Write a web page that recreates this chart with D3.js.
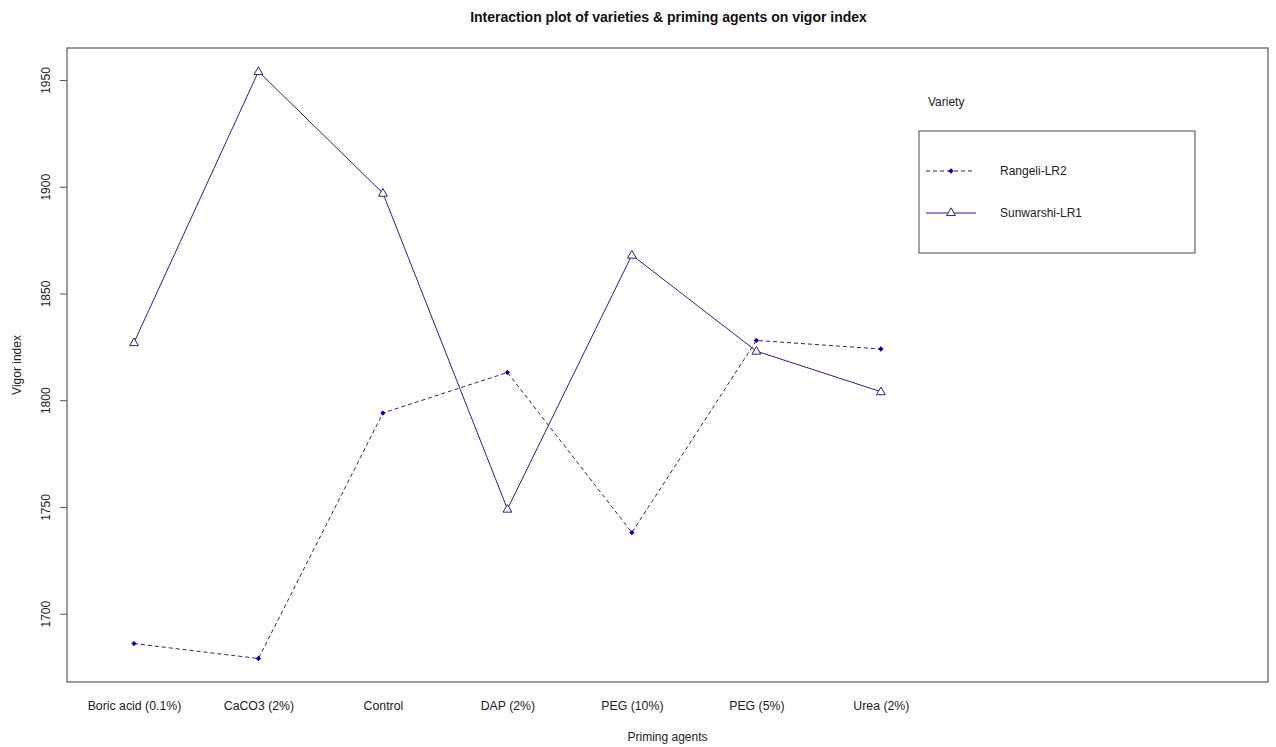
<!DOCTYPE html>
<html>
<head>
<meta charset="utf-8">
<script src="https://cdn.jsdelivr.net/npm/d3@7"></script>
<style>
  html, body { margin: 0; padding: 0; background: #fff; }
  text { font-family: "Liberation Sans", Arial, sans-serif; }
</style>
</head>
<body>
<svg id="chart" width="1276" height="747"></svg>
<script>
// ---- data ----
const categories = ["Boric acid (0.1%)", "CaCO3 (2%)", "Control", "DAP (2%)", "PEG (10%)", "PEG (5%)", "Urea (2%)"];
const rangeli = [1686, 1679, 1794, 1813, 1738, 1828, 1824];
const sunwarshi = [1827, 1954, 1897, 1749, 1868, 1823, 1804];
const seriesNames = ["Rangeli-LR2", "Sunwarshi-LR1"];
const yTicks = [1700, 1750, 1800, 1850, 1900, 1950];
const titleText = "Interaction plot of varieties & priming agents on vigor index";
const xTitle = "Priming agents";
const yTitle = "Vigor index";
const legendTitle = "Variety";

// ---- layout ----
const svg = d3.select("#chart");
const L = 67, R = 1268, T = 48, B = 682;
const lineCol = "#23238f";
const ptCol = "#0000b8";

const x = d3.scaleLinear().domain([0.462, 10.11]).range([L, R]);
const allVals = rangeli.concat(sunwarshi);
const lo = d3.min(allVals), hi = d3.max(allVals), pad = (hi - lo) * 0.04;
const y = d3.scaleLinear().domain([lo - pad, hi + pad]).range([B, T]);

// title
svg.append("text").attr("x", (L + R) / 2 + 1).attr("y", 22)
  .attr("text-anchor", "middle").attr("font-size", 14).attr("font-weight", "bold")
  .attr("fill", "#111").text(titleText);

// y axis
const yAxis = d3.axisLeft(y).tickValues(yTicks).tickSize(7).tickSizeOuter(0).tickFormat(d3.format("d"));
const gy = svg.append("g").attr("transform", `translate(${L},0)`).call(yAxis);
gy.select(".domain").remove();
gy.selectAll(".tick line").attr("stroke", "#555");
gy.selectAll(".tick text")
  .attr("font-size", 12).attr("fill", "#222")
  .attr("transform", "translate(-21,0) rotate(-90)")
  .attr("x", 0).attr("y", 0).attr("dy", "0.35em").attr("text-anchor", "middle");

// x axis labels
const idx = d3.range(1, categories.length + 1);
const gx = svg.append("g").attr("transform", `translate(0,${B})`)
  .call(d3.axisBottom(x).tickValues(idx).tickSize(0).tickFormat((d, i) => categories[i]));
gx.select(".domain").remove();
gx.selectAll(".tick text").attr("font-size", 12.3).attr("fill", "#222").attr("y", 19);

// frame
svg.append("rect").attr("x", L).attr("y", T).attr("width", R - L).attr("height", B - T)
  .attr("fill", "none").attr("stroke", "#666").attr("stroke-width", 1.3);

// axis titles
svg.append("text").attr("x", (L + R) / 2).attr("y", 741).attr("text-anchor", "middle")
  .attr("font-size", 12).attr("fill", "#222").text(xTitle);
svg.append("text").attr("transform", `translate(21,${(T + B) / 2}) rotate(-90)`)
  .attr("text-anchor", "middle").attr("font-size", 12).attr("fill", "#222").text(yTitle);

// lines
const line = d3.line().x((d, i) => x(i + 1)).y(d => y(d));
svg.append("path").datum(rangeli).attr("d", line).attr("fill", "none")
  .attr("stroke", lineCol).attr("stroke-width", 1).attr("stroke-dasharray", "4,3");
svg.append("path").datum(sunwarshi).attr("d", line).attr("fill", "none")
  .attr("stroke", lineCol).attr("stroke-width", 1);

// markers
const diamond = d3.symbol().type(d3.symbolSquare).size(14);
const tri = d3.symbol().type(d3.symbolTriangle).size(34);
svg.append("g").selectAll("path").data(rangeli).join("path")
  .attr("d", diamond).attr("transform", (d, i) => `translate(${x(i + 1)},${y(d)}) rotate(45)`)
  .attr("fill", ptCol);
svg.append("g").selectAll("path").data(sunwarshi).join("path")
  .attr("d", tri).attr("transform", (d, i) => `translate(${x(i + 1)},${y(d) + 0.5})`)
  .attr("fill", "#fff").attr("stroke", lineCol).attr("stroke-width", 1);

// legend
const lg = svg.append("g");
lg.append("text").attr("x", 928).attr("y", 106).attr("font-size", 12).attr("fill", "#222").text(legendTitle);
lg.append("rect").attr("x", 919).attr("y", 131).attr("width", 276).attr("height", 122)
  .attr("fill", "none").attr("stroke", "#444").attr("stroke-width", 1);
const legY = [171, 213];
lg.append("line").attr("x1", 926).attr("x2", 975).attr("y1", legY[0]).attr("y2", legY[0])
  .attr("stroke", lineCol).attr("stroke-dasharray", "4,3");
lg.append("path").attr("d", diamond).attr("transform", `translate(951,${legY[0]}) rotate(45)`).attr("fill", ptCol);
lg.append("line").attr("x1", 926).attr("x2", 976).attr("y1", legY[1]).attr("y2", legY[1])
  .attr("stroke", lineCol);
lg.append("path").attr("d", tri).attr("transform", `translate(951,${legY[1]})`)
  .attr("fill", "#fff").attr("stroke", lineCol);
seriesNames.forEach((n, i) => {
  lg.append("text").attr("x", 1000).attr("y", legY[i]).attr("dy", "0.35em")
    .attr("font-size", 12).attr("fill", "#222").text(n);
});
</script>
</body>
</html>
